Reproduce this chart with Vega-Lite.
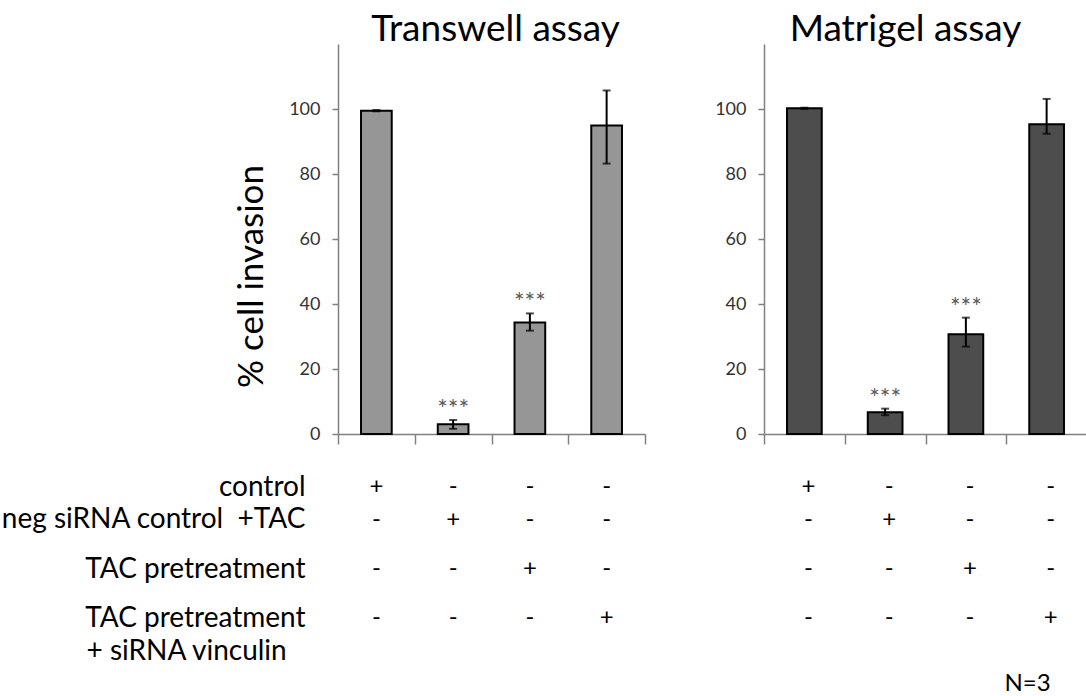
{
  "$schema": "https://vega.github.io/schema/vega-lite/v6.json",
  "padding": {"left": 0, "top": 11, "right": 0, "bottom": 0},
  "background": "white",
  "config": {"view": {"stroke": null}, "font": "Lato"},
  "columns": 2,
  "align": "each",
  "spacing": {"row": 28, "column": 68},
  "concat": [
    {
      "width": 307, "height": 390,
      "title": {"text": "Transwell assay", "fontSize": 37, "font": "Lato", "fontWeight": "normal", "baseline": "alphabetic", "offset": -34, "dx": 4, "color": "#000000"},
      "data": {"values": [
        {"cond": "c1", "v": 99.5, "lo": 99.3, "hi": 99.7, "star": ""},
        {"cond": "c2", "v": 3.0, "lo": 1.6, "hi": 4.3, "star": "***"},
        {"cond": "c3", "v": 34.3, "lo": 31.8, "hi": 37.1, "star": "***"},
        {"cond": "c4", "v": 94.9, "lo": 83.2, "hi": 105.7, "star": ""}
      ]},
      "encoding": {
        "x": {"field": "cond", "type": "nominal", "scale": {"domain": ["c1", "c2", "c3", "c4"], "paddingInner": 0, "paddingOuter": 0},
              "axis": {"labels": false, "title": null, "tickBand": "extent", "tickSize": 10, "tickColor": "#808080", "domainColor": "#808080", "domainWidth": 1.5, "tickWidth": 1.5}}
      },
      "layer": [
        {"mark": {"type": "bar", "width": {"band": 0.4}, "fill": "#969696", "stroke": "#000000", "strokeWidth": 2},
         "encoding": {"y": {"field": "v", "type": "quantitative", "scale": {"domain": [0, 120]},
           "axis": {"title": "% cell invasion", "titleFontSize": 35, "titleFont": "Lato", "titleFontWeight": "normal", "titleColor": "#000000", "titleX": -76, "titleY": 232, "titleAlign": "center", "titleBaseline": "alphabetic", "titleAngle": 270,
                    "values": [0, 20, 40, 60, 80, 100], "grid": false, "tickSize": 6, "tickColor": "#808080", "tickWidth": 1.5, "domainColor": "#808080", "domainWidth": 1.5, "labelFontSize": 18, "labelColor": "#333333", "labelPadding": 12}}}},
        {"mark": {"type": "rule", "strokeWidth": 2, "color": "#000000"},
         "encoding": {"y": {"field": "lo", "type": "quantitative", "title": "% cell invasion"}, "y2": {"field": "hi"}}},
        {"mark": {"type": "tick", "size": 8, "thickness": 2, "color": "#000000"},
         "encoding": {"y": {"field": "lo", "type": "quantitative", "title": "% cell invasion"}}},
        {"mark": {"type": "tick", "size": 8, "thickness": 2, "color": "#000000"},
         "encoding": {"y": {"field": "hi", "type": "quantitative", "title": "% cell invasion"}}},
        {"mark": {"type": "text", "dy": -10, "fontSize": 25, "fill": "#595959", "baseline": "middle"},
         "encoding": {"y": {"field": "hi", "type": "quantitative", "title": "% cell invasion"}, "text": {"field": "star"}}}
      ]
    },
    {
      "width": 323, "height": 390,
      "title": {"text": "Matrigel assay", "fontSize": 37, "font": "Lato", "fontWeight": "normal", "baseline": "alphabetic", "offset": -34, "dx": -20, "color": "#000000"},
      "data": {"values": [
        {"cond": "c1", "v": 100.2, "lo": 100.0, "hi": 100.4, "star": ""},
        {"cond": "c2", "v": 6.7, "lo": 5.8, "hi": 7.8, "star": "***"},
        {"cond": "c3", "v": 30.7, "lo": 26.9, "hi": 35.8, "star": "***"},
        {"cond": "c4", "v": 95.3, "lo": 92.4, "hi": 103.1, "star": ""}
      ]},
      "encoding": {
        "x": {"field": "cond", "type": "nominal", "scale": {"domain": ["c1", "c2", "c3", "c4"], "paddingInner": 0, "paddingOuter": 0},
              "axis": {"labels": false, "title": null, "tickBand": "extent", "tickSize": 10, "tickColor": "#808080", "domainColor": "#808080", "domainWidth": 1.5, "tickWidth": 1.5}}
      },
      "layer": [
        {"mark": {"type": "bar", "width": {"band": 0.43}, "fill": "#4d4d4d", "stroke": "#000000", "strokeWidth": 2},
         "encoding": {"y": {"field": "v", "type": "quantitative", "scale": {"domain": [0, 120]},
           "axis": {"title": null, "values": [0, 20, 40, 60, 80, 100], "grid": false, "tickSize": 6, "tickColor": "#808080", "tickWidth": 1.5, "domainColor": "#808080", "domainWidth": 1.5, "labelFontSize": 18, "labelColor": "#333333", "labelPadding": 12}}}},
        {"mark": {"type": "rule", "strokeWidth": 2, "color": "#000000"},
         "encoding": {"y": {"field": "lo", "type": "quantitative", "title": null}, "y2": {"field": "hi"}}},
        {"mark": {"type": "tick", "size": 8, "thickness": 2, "color": "#000000"},
         "encoding": {"y": {"field": "lo", "type": "quantitative", "title": null}}},
        {"mark": {"type": "tick", "size": 8, "thickness": 2, "color": "#000000"},
         "encoding": {"y": {"field": "hi", "type": "quantitative", "title": null}}},
        {"mark": {"type": "text", "dy": -10, "fontSize": 25, "fill": "#595959", "baseline": "middle"},
         "encoding": {"y": {"field": "hi", "type": "quantitative", "title": null}, "text": {"field": "star"}}}
      ]
    },
    {
      "width": 307, "height": 197,
      "data": {"values": [
        {"cond": "c1", "row": "control", "sign": "+"}, {"cond": "c2", "row": "control", "sign": "-"}, {"cond": "c3", "row": "control", "sign": "-"}, {"cond": "c4", "row": "control", "sign": "-"},
        {"cond": "c1", "row": "neg", "sign": "-"}, {"cond": "c2", "row": "neg", "sign": "+"}, {"cond": "c3", "row": "neg", "sign": "-"}, {"cond": "c4", "row": "neg", "sign": "-"},
        {"cond": "c1", "row": "TAC", "sign": "-"}, {"cond": "c2", "row": "TAC", "sign": "-"}, {"cond": "c3", "row": "TAC", "sign": "+"}, {"cond": "c4", "row": "TAC", "sign": "-"},
        {"cond": "c1", "row": "TACsi", "sign": "-"}, {"cond": "c2", "row": "TACsi", "sign": "-"}, {"cond": "c3", "row": "TACsi", "sign": "-"}, {"cond": "c4", "row": "TACsi", "sign": "+"}
      ]},
      "mark": {"type": "text", "fontSize": 24, "color": "#000000", "baseline": "middle"},
      "encoding": {
        "x": {"field": "cond", "type": "nominal", "scale": {"domain": ["c1", "c2", "c3", "c4"], "paddingInner": 0, "paddingOuter": 0}, "axis": null},
        "y": {"field": "row", "type": "nominal",
              "scale": {"type": "point", "padding": 0, "domain": ["control", "s1", "neg", "s2", "s3", "TAC", "s4", "s5", "TACsi", "s6", "TACsi2", "s7", "N"]},
              "axis": {"title": null, "domain": false, "ticks": false, "tickSize": 0, "grid": false, "labelLimit": 0,
                       "values": ["control", "neg", "TAC", "TACsi", "TACsi2"],
                       "labelExpr": "datum.value === 'control' ? 'control' : datum.value === 'neg' ? 'neg siRNA control\u00a0 +TAC' : datum.value === 'TACsi2' ? '+ siRNA vinculin' : 'TAC pretreatment'",
                       "labelFontSize": 28, "labelColor": "#000000", "labelBaseline": "middle",
                       "labelAlign": {"condition": {"test": "datum.value === 'TACsi2'", "value": "left"}, "value": "right"},
                       "labelPadding": {"condition": {"test": "datum.value === 'TACsi2'", "value": 252}, "value": 33}}},
        "text": {"field": "sign"}
      }
    },
    {
      "width": 323, "height": 197,
      "data": {"values": [
        {"cond": "c1", "row": "control", "sign": "+"}, {"cond": "c2", "row": "control", "sign": "-"}, {"cond": "c3", "row": "control", "sign": "-"}, {"cond": "c4", "row": "control", "sign": "-"},
        {"cond": "c1", "row": "neg", "sign": "-"}, {"cond": "c2", "row": "neg", "sign": "+"}, {"cond": "c3", "row": "neg", "sign": "-"}, {"cond": "c4", "row": "neg", "sign": "-"},
        {"cond": "c1", "row": "TAC", "sign": "-"}, {"cond": "c2", "row": "TAC", "sign": "-"}, {"cond": "c3", "row": "TAC", "sign": "+"}, {"cond": "c4", "row": "TAC", "sign": "-"},
        {"cond": "c1", "row": "TACsi", "sign": "-"}, {"cond": "c2", "row": "TACsi", "sign": "-"}, {"cond": "c3", "row": "TACsi", "sign": "-"}, {"cond": "c4", "row": "TACsi", "sign": "+"}
      ]},
      "encoding": {
        "x": {"field": "cond", "type": "nominal", "scale": {"domain": ["c1", "c2", "c3", "c4"], "paddingInner": 0, "paddingOuter": 0}, "axis": null},
        "y": {"field": "row", "type": "nominal",
              "scale": {"type": "point", "padding": 0, "domain": ["control", "s1", "neg", "s2", "s3", "TAC", "s4", "s5", "TACsi", "s6", "TACsi2", "s7", "N"]},
              "axis": null}
      },
      "layer": [
        {"mark": {"type": "text", "fontSize": 24, "color": "#000000", "baseline": "middle", "dx": 4},
         "encoding": {"text": {"field": "sign"}}},
        {"data": {"values": [{"cond": "c4", "row": "N", "note": "N=3"}]},
         "mark": {"type": "text", "fontSize": 24, "color": "#000000", "baseline": "middle", "align": "right", "dx": 4},
         "encoding": {"text": {"field": "note"}}}
      ]
    }
  ]
}
